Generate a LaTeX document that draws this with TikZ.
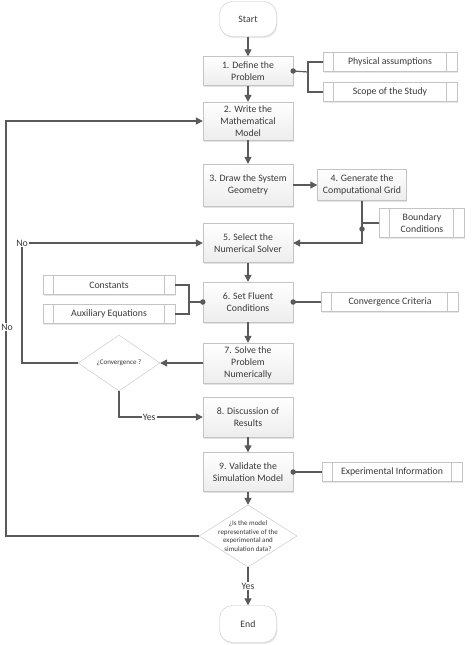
\documentclass[tikz,border=0pt]{standalone}
\usepackage{fontspec}
\setmainfont{Carlito}
\usetikzlibrary{shapes.geometric,arrows.meta,shadows}
\definecolor{ln}{HTML}{5A5A5A}
\definecolor{bd}{HTML}{C4C4C4}
\definecolor{tx}{HTML}{3A3A3A}
\begin{document}
\begin{tikzpicture}[x=1pt,y=-1pt,
  box/.style={draw=bd, top color=white, bottom color=gray!14, minimum width=90pt, minimum height=39pt,
    align=center, text=tx, font=\fontsize{9.8}{12}\selectfont, inner sep=1pt,
    drop shadow={opacity=0.22, shadow xshift=0.8pt, shadow yshift=-1.5pt}},
  sub/.style={draw=bd, fill=white, minimum width=134pt, minimum height=19pt, inner sep=1pt,
    align=center, text=tx, font=\fontsize{9.8}{12}\selectfont,
    drop shadow={opacity=0.18, shadow xshift=0.8pt, shadow yshift=-1.5pt},
    path picture={\draw[bd] ([xshift=10pt]path picture bounding box.north west) -- ([xshift=10pt]path picture bounding box.south west);
      \draw[bd] ([xshift=-11pt]path picture bounding box.north east) -- ([xshift=-11pt]path picture bounding box.south east);}},
  term/.style={draw=bd, fill=white, rounded corners=13pt, minimum width=57pt, minimum height=35pt,
    text=tx, font=\fontsize{9.8}{12}\selectfont,
    drop shadow={opacity=0.18, shadow xshift=0.8pt, shadow yshift=-1.5pt}},
  dia/.style={diamond, draw=bd, fill=white, inner sep=0pt},
  dtxt/.style={align=center, text=tx, font=\fontsize{7}{8.4}\selectfont},
  lab/.style={fill=white, inner sep=1pt, text=tx, font=\fontsize{9.8}{12}\selectfont},
  arr/.style={draw=ln, line width=1.2pt, -{Triangle[length=7pt,width=7pt]}},
  ln/.style={draw=ln, line width=1.2pt},
  dot/.style={circle, fill=ln, inner sep=0pt, minimum size=5.5pt}
]
\useasboundingbox (0,0) rectangle (474,645);
\fill[white] (0,0) rectangle (474,645);

% main column
\node[term] (start) at (248,19) {Start};
\node[box, minimum height=29pt] (b1) at (248,71) {1. Define the\\Problem};
\node[box, minimum height=38pt] (b2) at (248,121) {2. Write the\\Mathematical\\Model};
\node[box, minimum height=42pt] (b3) at (248,185) {3. Draw the System\\Geometry};
\node[box, minimum width=89pt, minimum height=31pt] (b4) at (362,185) {4. Generate the\\Computational Grid};
\node[box] (b5) at (248,243) {5. Select the\\Numerical Solver};
\node[box, minimum height=40pt] (b6) at (248,302) {6. Set Fluent\\Conditions};
\node[box, minimum height=40pt] (b7) at (248,363) {7. Solve the\\Problem\\Numerically};
\node[box, minimum height=40pt] (b8) at (248,417) {8. Discussion of\\Results};
\node[box] (b9) at (248,472) {9. Validate the\\Simulation Model};
\node[term, minimum height=37pt] (end) at (248,624) {End};

% decisions
\node[dia, minimum width=82pt, minimum height=56pt] (q1) at (119,363) {};
\node[dtxt] at (q1) {¿Convergence ?};
\node[dia, minimum width=98pt, minimum height=62pt] (q2) at (248,536) {};
\node[dtxt] at (q2) {¿Is the model\\representative of the\\experimental and\\simulation data?};

% side inputs
\node[sub] (pa) at (390,62) {Physical assumptions};
\node[sub] (ss) at (390,92) {Scope of the Study};
\node[sub, minimum width=85pt, minimum height=29pt] (bc) at (422,223) {Boundary\\Conditions};
\node[sub, minimum width=132pt] (co) at (109,285) {Constants};
\node[sub, minimum width=132pt] (ax) at (109,314) {Auxiliary Equations};
\node[sub, minimum width=137pt] (cc) at (390,302) {Convergence Criteria};
\node[sub, minimum width=140pt] (ei) at (392,472) {Experimental Information};

% main flow arrows
\draw[arr] (start) -- (b1);
\draw[arr] (b1) -- (b2);
\draw[arr] (b2) -- (b3);
\draw[arr] (b3) -- (b4);
\draw[arr] (b4.south) |- (b5.east);
\draw[arr] (b5) -- (b6);
\draw[arr] (b6) -- (b7);
\draw[arr] (b7) -- (q1);
\draw[arr] (q1.south) |- (b8.west) node[lab, pos=0.68] {Yes};
\draw[arr] (b8) -- (b9);
\draw[arr] (b9) -- (q2);
\draw[arr] (q2) -- (end) node[lab, midway] {Yes};

% loops
\coordinate (noin) at (22,243);
\draw[arr] (q1.west) -| (noin) -- (b5.west);
\node[lab] at (noin) {No};
\coordinate (noout) at (6,121);
\draw[arr] (q2.west) -| (noout) -- (b2.west);
\node[lab] at (7,327) {No};

% side connectors
\coordinate (j1) at (308,72);
\draw[ln] (b1.east) -- (j1);
\draw[ln] (pa.west) -| (j1) |- (ss.west);
\node[dot] at (b1.east) {};

\coordinate (j4) at (362,223);
\draw[ln] (j4) -- (bc.west);
\node[dot] at (362,229) {};

\coordinate (j2) at (189,302);
\draw[ln] (co.east) -| (j2) |- (ax.east);
\draw[ln] (j2) -- (b6.west);
\node[dot] at (b6.west) {};
\draw[ln] (b6.east) -- (cc.west);
\node[dot] at (b6.east) {};

\draw[ln] (b9.east) -- (ei.west);
\node[dot] at (b9.east) {};
\end{tikzpicture}
\end{document}
